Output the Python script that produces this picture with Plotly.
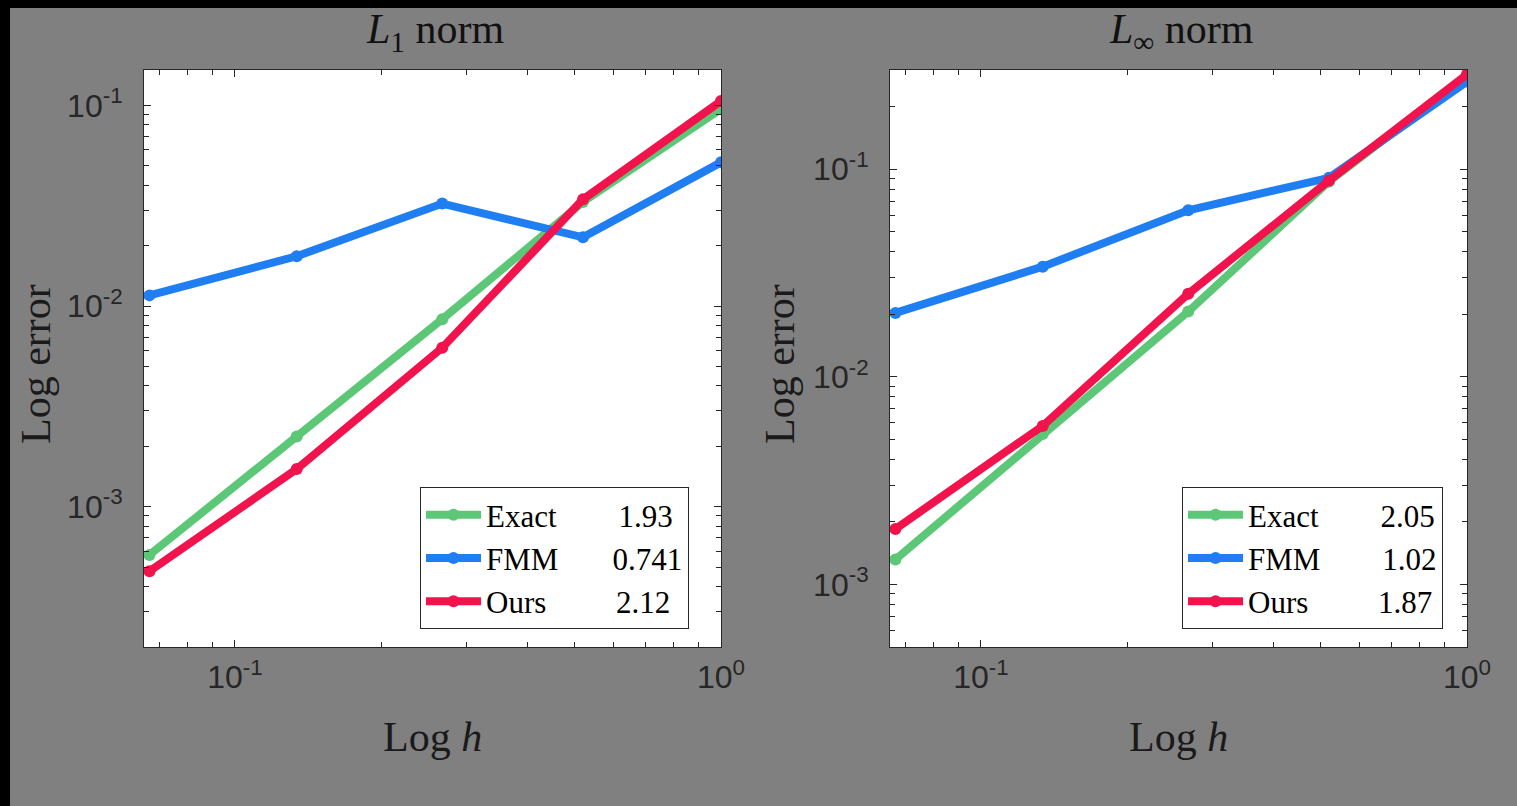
import plotly.graph_objects as go
import math

# ---- data ----
h = [0.0667, 0.134, 0.267, 0.52, 1.0]

exact_l1 = [5.75e-4, 2.24e-3, 8.6e-3, 3.3e-2, 9.6e-2]
fmm_l1 = [1.13e-2, 1.77e-2, 3.24e-2, 2.2e-2, 5.2e-2]
ours_l1 = [4.77e-4, 1.54e-3, 6.2e-3, 3.4e-2, 1.05e-1]

exact_linf = [1.32e-3, 5.3e-3, 2.06e-2, 8.7e-2, 2.8e-1]
fmm_linf = [2.03e-2, 3.39e-2, 6.33e-2, 9.08e-2, 2.64e-1]
ours_linf = [1.85e-3, 5.8e-3, 2.51e-2, 8.8e-2, 2.86e-1]

series_names = ["Exact", "FMM", "Ours"]
slopes_l1 = ["1.93", "0.741", "2.12"]
slopes_linf = ["2.05", "1.02", "1.87"]
colors = ["#5CC777", "#1F7FF2", "#F2134D"]

titles = ["<i>L</i><sub>1</sub> norm", "<i>L</i><sub>∞</sub> norm"]
x_ticks = [0.1, 1]
x_ticktext = ["10<sup>-1</sup>", "10<sup>0</sup>"]
y_ticks = [1e-3, 1e-2, 1e-1]
y_ticktext = ["10<sup>-3</sup>", "10<sup>-2</sup>", "10<sup>-1</sup>"]

W, H = 1517, 806
BG = "#808080"
INK = "#262626"
SERIF = "Liberation Serif"
SANS = "Liberation Sans"

# pixel geometry
px_left = [(144, 721), (890, 1467)]
py = (70, 647)
ylims = [(2e-4, 0.15), (5e-4, 0.3)]
xlim = (0.065, 1.0)


def nb(n):
    return "\u00a0" * n


pads_l1 = [8, 7, 9]
pads_linf = [8, 8, 9]

fig = go.Figure()

panels = [
    (exact_l1, fmm_l1, ours_l1, slopes_l1, pads_l1),
    (exact_linf, fmm_linf, ours_linf, slopes_linf, pads_linf),
]

for i, (e, f, o, sl, pads) in enumerate(panels):
    xa = "x" if i == 0 else "x2"
    ya = "y" if i == 0 else "y2"
    lg = "legend" if i == 0 else "legend2"
    for name, ys, col, s, p in zip(series_names, [e, f, o], colors, sl, pads):
        fig.add_trace(go.Scatter(
            x=h, y=ys, mode="lines+markers", name=name + nb(p) + s,
            line=dict(color=col, width=8),
            marker=dict(color=col, size=12),
            xaxis=xa, yaxis=ya, legend=lg,
        ))

axis_common = dict(
    type="log", showgrid=False, zeroline=False, showline=True,
    linecolor=INK, linewidth=1, mirror="ticks",
    ticks="inside", ticklen=7, tickwidth=1, tickcolor=INK,
    tickfont=dict(family=SANS, size=32, color=INK),
    minor=dict(ticks="inside", ticklen=5, tickwidth=1, tickcolor=INK, dtick="D1", showgrid=False),
)

layout = dict(
    width=W, height=H, autosize=False,
    paper_bgcolor=BG, plot_bgcolor="white",
    margin=dict(l=0, r=0, t=0, b=0, autoexpand=False),
    showlegend=True,
)

for i in range(2):
    sx = "" if i == 0 else "2"
    x0, x1 = px_left[i]
    dom_x = [x0 / W, x1 / W]
    dom_y = [1 - py[1] / H, 1 - py[0] / H]
    layout["xaxis" + sx] = dict(
        axis_common, domain=dom_x, anchor="y" + sx,
        range=[math.log10(xlim[0]), math.log10(xlim[1])],
        tickvals=x_ticks, ticktext=x_ticktext, ticklabelstandoff=2,
    )
    layout["yaxis" + sx] = dict(
        axis_common, domain=dom_y, anchor="x" + sx,
        range=[math.log10(ylims[i][0]), math.log10(ylims[i][1])],
        tickvals=y_ticks, ticktext=y_ticktext, ticklabelstandoff=14,
    )

leg_common = dict(
    bgcolor="white", bordercolor=INK, borderwidth=1,
    font=dict(family=SERIF, size=31, color="#000000"),
    xanchor="left", yanchor="top", itemwidth=55, tracegroupgap=0,
)
layout["legend"] = dict(leg_common, x=420 / W, y=1 - 487 / H)
layout["legend2"] = dict(leg_common, x=1182 / W, y=1 - 487 / H)

annotations = []
for i in range(2):
    x0, x1 = px_left[i]
    cx = (x0 + x1) / 2 / W
    annotations.append(dict(text=titles[i], x=cx + 3 / W, y=1 - 32 / H, xref="paper", yref="paper",
                            showarrow=False, xanchor="center", yanchor="middle",
                            font=dict(family=SERIF, size=42, color="#111111")))
    annotations.append(dict(text="Log <i>h</i>", x=cx, y=1 - 737 / H, xref="paper", yref="paper",
                            showarrow=False, xanchor="center", yanchor="middle",
                            font=dict(family=SERIF, size=42, color="#1a1a1a")))
    ylab_x = [36, 780][i]
    annotations.append(dict(text="Log error", x=ylab_x / W, y=1 - 364 / H, xref="paper", yref="paper",
                            showarrow=False, xanchor="center", yanchor="middle", textangle=-90,
                            font=dict(family=SERIF, size=42, color="#1a1a1a")))
layout["annotations"] = annotations

layout["shapes"] = [
    dict(type="rect", xref="paper", yref="paper", x0=0, x1=10 / W, y0=0, y1=1,
         fillcolor="black", line=dict(width=0), layer="below"),
    dict(type="rect", xref="paper", yref="paper", x0=0, x1=1, y0=1 - 8 / H, y1=1,
         fillcolor="black", line=dict(width=0), layer="below"),
]

fig.update_layout(**layout)

page_fix = (
    "document.documentElement.style.overflow='hidden';"
    "document.body.style.overflow='hidden';"
    "document.body.style.margin='0';"
    "document.body.style.background='#808080';"
)
fig.write_html("out.html", config={"responsive": False}, post_script=page_fix)
